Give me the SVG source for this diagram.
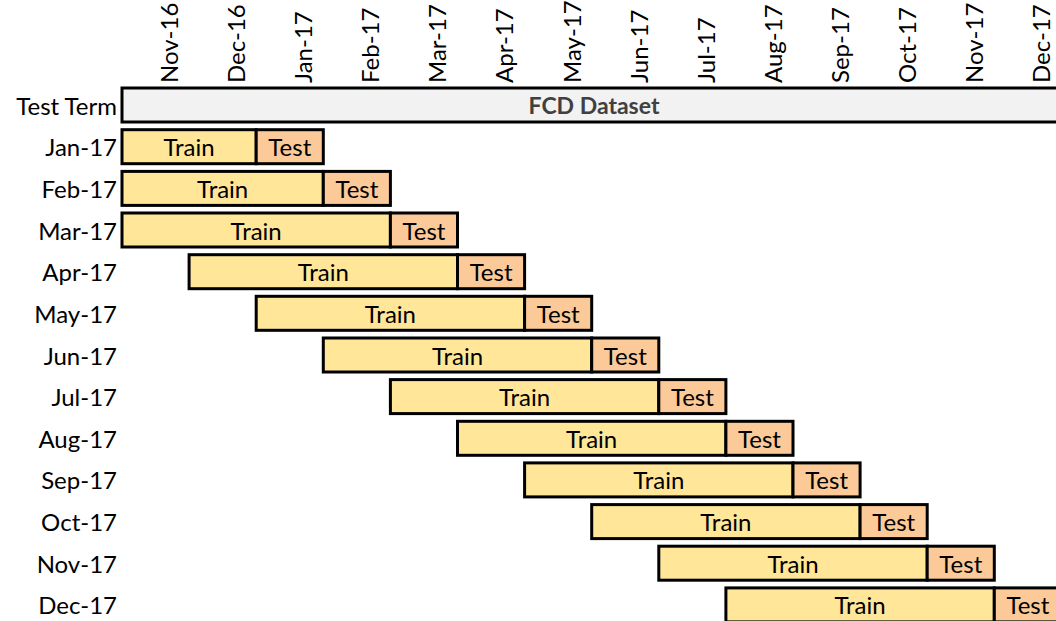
<svg xmlns="http://www.w3.org/2000/svg" width="1056" height="621" viewBox="0 0 1056 621">
  <style>
    .lbl { font-family: Lato, "Open Sans", "Liberation Sans", sans-serif; font-size: 24px; fill: #000; }
    .row { text-anchor: end; dominant-baseline: central; }
    .mon { text-anchor: start; }
    .in { text-anchor: middle; dominant-baseline: central; }
    .train { fill: #FFE699; stroke: #000; stroke-width: 3; }
    .test { fill: #FBCA98; stroke: #000; stroke-width: 3; }
    .head { fill: #F2F2F2; stroke: #000; stroke-width: 3; }
    .title { font-family: Lato, "Open Sans", "Liberation Sans", sans-serif; font-size: 23px; font-weight: bold; fill: #404040; text-anchor: middle; dominant-baseline: central; }
  </style>

  <!-- month axis labels (rotated, reading bottom to top) -->
  <g id="axis">
    <text class="lbl mon" transform="translate(178,83) rotate(-90)">Nov-16</text>
    <text class="lbl mon" transform="translate(245,83) rotate(-90)">Dec-16</text>
    <text class="lbl mon" transform="translate(312,83) rotate(-90)">Jan-17</text>
    <text class="lbl mon" transform="translate(379,83) rotate(-90)">Feb-17</text>
    <text class="lbl mon" transform="translate(446,83) rotate(-90)">Mar-17</text>
    <text class="lbl mon" transform="translate(513,83) rotate(-90)">Apr-17</text>
    <text class="lbl mon" transform="translate(581,83) rotate(-90)">May-17</text>
    <text class="lbl mon" transform="translate(648,83) rotate(-90)">Jun-17</text>
    <text class="lbl mon" transform="translate(715,83) rotate(-90)">Jul-17</text>
    <text class="lbl mon" transform="translate(782,83) rotate(-90)">Aug-17</text>
    <text class="lbl mon" transform="translate(849,83) rotate(-90)">Sep-17</text>
    <text class="lbl mon" transform="translate(916,83) rotate(-90)">Oct-17</text>
    <text class="lbl mon" transform="translate(983,83) rotate(-90)">Nov-17</text>
    <text class="lbl mon" transform="translate(1050,83) rotate(-90)">Dec-17</text>
  </g>

  <!-- dataset span -->
  <g id="dataset">
    <text class="lbl row" x="117" y="105">Test Term</text>
    <rect class="head" x="122" y="88" width="950" height="34"/>
    <text class="title" x="594" y="105">FCD Dataset</text>
  </g>

  <!-- one row per test month: train window + test month; month width 67.1 from x=122 -->
  <g id="row-jan17">
    <text class="lbl row" x="117" y="146.7">Jan-17</text>
    <rect class="train" x="122" y="129.7" width="134.2" height="34"/>
    <rect class="test" x="256.2" y="129.7" width="67.1" height="34"/>
    <text class="lbl in" x="189.1" y="146.7">Train</text>
    <text class="lbl in" x="289.8" y="146.7">Test</text>
  </g>
  <g id="row-feb17">
    <text class="lbl row" x="117" y="188.4">Feb-17</text>
    <rect class="train" x="122" y="171.4" width="201.3" height="34"/>
    <rect class="test" x="323.3" y="171.4" width="67.1" height="34"/>
    <text class="lbl in" x="222.7" y="188.4">Train</text>
    <text class="lbl in" x="356.9" y="188.4">Test</text>
  </g>
  <g id="row-mar17">
    <text class="lbl row" x="117" y="230">Mar-17</text>
    <rect class="train" x="122" y="213" width="268.4" height="34"/>
    <rect class="test" x="390.4" y="213" width="67.1" height="34"/>
    <text class="lbl in" x="256.2" y="230">Train</text>
    <text class="lbl in" x="424" y="230">Test</text>
  </g>
  <g id="row-apr17">
    <text class="lbl row" x="117" y="271.7">Apr-17</text>
    <rect class="train" x="189.1" y="254.7" width="268.4" height="34"/>
    <rect class="test" x="457.5" y="254.7" width="67.1" height="34"/>
    <text class="lbl in" x="323.3" y="271.7">Train</text>
    <text class="lbl in" x="491.1" y="271.7">Test</text>
  </g>
  <g id="row-may17">
    <text class="lbl row" x="117" y="313.3">May-17</text>
    <rect class="train" x="256.2" y="296.3" width="268.4" height="34"/>
    <rect class="test" x="524.6" y="296.3" width="67.1" height="34"/>
    <text class="lbl in" x="390.4" y="313.3">Train</text>
    <text class="lbl in" x="558.2" y="313.3">Test</text>
  </g>
  <g id="row-jun17">
    <text class="lbl row" x="117" y="355">Jun-17</text>
    <rect class="train" x="323.3" y="338" width="268.4" height="34"/>
    <rect class="test" x="591.7" y="338" width="67.1" height="34"/>
    <text class="lbl in" x="457.5" y="355">Train</text>
    <text class="lbl in" x="625.3" y="355">Test</text>
  </g>
  <g id="row-jul17">
    <text class="lbl row" x="117" y="396.6">Jul-17</text>
    <rect class="train" x="390.4" y="379.6" width="268.4" height="34"/>
    <rect class="test" x="658.8" y="379.6" width="67.1" height="34"/>
    <text class="lbl in" x="524.6" y="396.6">Train</text>
    <text class="lbl in" x="692.4" y="396.6">Test</text>
  </g>
  <g id="row-aug17">
    <text class="lbl row" x="117" y="438.3">Aug-17</text>
    <rect class="train" x="457.5" y="421.3" width="268.4" height="34"/>
    <rect class="test" x="725.9" y="421.3" width="67.1" height="34"/>
    <text class="lbl in" x="591.7" y="438.3">Train</text>
    <text class="lbl in" x="759.5" y="438.3">Test</text>
  </g>
  <g id="row-sep17">
    <text class="lbl row" x="117" y="479.9">Sep-17</text>
    <rect class="train" x="524.6" y="462.9" width="268.4" height="34"/>
    <rect class="test" x="793" y="462.9" width="67.1" height="34"/>
    <text class="lbl in" x="658.8" y="479.9">Train</text>
    <text class="lbl in" x="826.6" y="479.9">Test</text>
  </g>
  <g id="row-oct17">
    <text class="lbl row" x="117" y="521.6">Oct-17</text>
    <rect class="train" x="591.7" y="504.6" width="268.4" height="34"/>
    <rect class="test" x="860.1" y="504.6" width="67.1" height="34"/>
    <text class="lbl in" x="725.9" y="521.6">Train</text>
    <text class="lbl in" x="893.7" y="521.6">Test</text>
  </g>
  <g id="row-nov17">
    <text class="lbl row" x="117" y="563.2">Nov-17</text>
    <rect class="train" x="658.8" y="546.2" width="268.4" height="34"/>
    <rect class="test" x="927.2" y="546.2" width="67.1" height="34"/>
    <text class="lbl in" x="793" y="563.2">Train</text>
    <text class="lbl in" x="960.8" y="563.2">Test</text>
  </g>
  <g id="row-dec17">
    <text class="lbl row" x="117" y="604.9">Dec-17</text>
    <rect class="train" x="725.9" y="587.9" width="268.4" height="34"/>
    <rect class="test" x="994.3" y="587.9" width="67.1" height="34"/>
    <text class="lbl in" x="860.1" y="604.9">Train</text>
    <text class="lbl in" x="1027.9" y="604.9">Test</text>
  </g>
</svg>
